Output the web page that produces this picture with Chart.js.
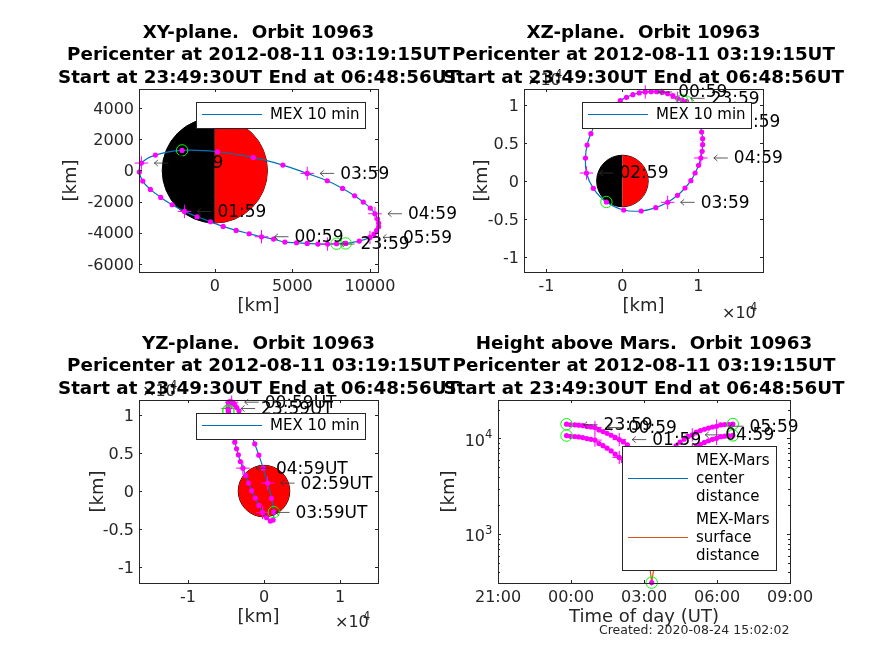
<!DOCTYPE html>
<html lang="en">
  <head>
    <meta charset="UTF-8" />
    <title>MEX orbit 10963</title>
    <script src="https://cdn.jsdelivr.net/npm/chart.js@4"></script>
    <style>
      body {
        margin: 0;
        background-color: #ffffff;
        overflow: hidden;
      }
      canvas {
        position: absolute;
        left: 0;
        top: 0;
      }
    </style>
  </head>
  <body>
    <canvas id="xyChart" width="874" height="655"></canvas>
    <canvas id="xzChart" width="874" height="655"></canvas>
    <canvas id="yzChart" width="874" height="655"></canvas>
    <canvas id="heightChart" width="874" height="655"></canvas>

    <script>
      // MEX position every 10 min, km
      const posX = [8428, 7848, 7267, 6644, 5955, 5268, 4515, 3784, 3010, 2214, 1376, 537, -280, -1140, -1957, -2752, -3483, -4150, -4644, -4859, -4730, -3827, -2107, 172, 2473, 4386, 5955, 7246, 8235, 9009, 9568, 10019, 10320, 10492, 10557, 10557, 10428, 10256, 9998, 9310, 8428];
      const posY = [-4680, -4701, -4723, -4723, -4680, -4637, -4595, -4402, -4253, -4060, -3847, -3590, -3291, -2970, -2629, -2201, -1731, -1218, -684, -107, 470, 983, 1282, 1197, 833, 342, -192, -662, -1154, -1624, -2030, -2415, -2778, -3120, -3376, -3612, -3847, -4082, -4295, -4530, -4680];
      const posZ = [10439, 10614, 10877, 11228, 11491, 11667, 11754, 11754, 11711, 11579, 11360, 11009, 10570, 9912, 9167, 8509, 7632, 6228, 4737, 3026, 1053, -965, -2763, -3816, -3947, -3509, -2807, -1886, -921, 44, 1053, 2061, 3026, 3904, 4781, 5570, 6447, 7193, 7851, 9167, 10439];

      const hourLabels = ["23:59", "00:59", "01:59", "02:59", "03:59", "04:59", "05:59"];
      const hourIndex = [2, 8, 14, 20, 26, 32, 38];
      const circleIndex = [0, 1, 22];

      // height plot
      const times = ["23:49", "23:59", "00:09", "00:19", "00:29", "00:39", "00:49", "00:59", "01:09", "01:19", "01:29", "01:39", "01:49", "01:59", "02:09", "02:19", "02:29", "02:39", "02:49", "02:59", "03:09", "03:19", "03:29", "03:39", "03:49", "03:59", "04:09", "04:19", "04:29", "04:39", "04:49", "04:59", "05:09", "05:19", "05:29", "05:39", "05:49", "05:59", "06:09", "06:19", "06:29", "06:39"];
      const centerDist = [14100, 13907, 13874, 13762, 13616, 13350, 13180, 13000, 12250, 11800, 11300, 10800, 10250, 9730, 9209, 8562, 7583, 6671, 5727, 4868, 4068, 3703, 4003, 4733, 5621, 6588, 7517, 8361, 9154, 9834, 10507, 10900, 11619, 12075, 12470, 12849, 13176, 13416, 13827, 13950, 14050, 14150];
      const surfaceDist = [10710, 10517, 10484, 10372, 10226, 9960, 9790, 9610, 8860, 8410, 7910, 7410, 6860, 6340, 5819, 5172, 4193, 3281, 2337, 1478, 678, 313, 613, 1343, 2231, 3198, 4127, 4971, 5764, 6444, 7117, 7510, 8229, 8685, 9080, 9459, 9786, 10026, 10437, 10560, 10660, 10760];
      const heightHourLabels = ["23:59", "00:59", "01:59", "02:59", "03:59", "04:59", "05:59"];
      const heightHourIndex = [1, 7, 13, 19, 25, 31, 37];
      const heightPlusIndex = [7, 13, 19, 25, 31, 37];
      const heightCircleIndex = [0, 21, 41];

      const xyTicksX = [0, 5000, 10000];
      const xyTicksY = [-6000, -4000, -2000, 0, 2000, 4000];
      const planeTicksX = [-10000, 0, 10000];
      const planeTicksY = [-10000, -5000, 0, 5000, 10000];
      const heightTicksX = [21, 24, 27, 30, 33];
      const heightTicksY = [1000, 10000];

      const marsRadius = 3390;

      const FONT = "'DejaVu Sans'";
      const DARK = "#262626";
      Chart.defaults.font.family = FONT;
      Chart.defaults.color = DARK;

      function toHours(t) {
        const p = t.split(":");
        const h = Number(p[0]) + Number(p[1]) / 60;
        return h < 12 ? h + 24 : h;
      }

      function pick(xs, ys, idx) {
        return idx.map((i) => ({ x: xs[i], y: ys[i] }));
      }

      function zip(xs, ys) {
        return xs.map((v, i) => ({ x: v, y: ys[i] }));
      }

      function lineSet(points, color, tension) {
        return {
          data: points,
          showLine: true,
          borderColor: color,
          borderWidth: 1.2,
          pointRadius: 0,
          tension: tension,
          clip: false,
          order: 3,
        };
      }

      function dotSet(points) {
        return {
          data: points,
          showLine: false,
          pointRadius: 2.6,
          pointHoverRadius: 2.6,
          pointBackgroundColor: "#ff00ff",
          pointBorderWidth: 0,
          clip: false,
          order: 2,
        };
      }

      function plusSet(points) {
        return {
          data: points,
          showLine: false,
          pointStyle: "cross",
          pointRadius: 6.7,
          pointBorderColor: "#ff00ff",
          pointBorderWidth: 1,
          clip: false,
          order: 1,
        };
      }

      function circleSet(points) {
        return {
          data: points,
          showLine: false,
          pointStyle: "circle",
          pointRadius: 5.7,
          pointBackgroundColor: "rgba(0,0,0,0)",
          pointBorderColor: "#00ff00",
          pointBorderWidth: 1,
          clip: false,
          order: 0,
        };
      }

      // Mars disc, sits under the orbit
      const marsPlugin = {
        id: "mars",
        beforeDatasetsDraw(chart, args, opts) {
          if (!opts.left) return;
          const { ctx, scales } = chart;
          const cx = scales.x.getPixelForValue(0);
          const cy = scales.y.getPixelForValue(0);
          const r = scales.x.getPixelForValue(marsRadius) - cx;
          ctx.save();
          ctx.beginPath();
          ctx.arc(cx, cy, r, 0, Math.PI * 2);
          ctx.strokeStyle = "#000000";
          ctx.lineWidth = 1;
          ctx.stroke();
          ctx.fillStyle = opts.left;
          ctx.beginPath();
          ctx.arc(cx, cy, r, Math.PI / 2, (Math.PI * 3) / 2);
          ctx.fill();
          ctx.fillStyle = opts.right;
          ctx.beginPath();
          ctx.arc(cx, cy, r, -Math.PI / 2, Math.PI / 2);
          ctx.fill();
          ctx.restore();
        },
      };

      // time labels with thin arrows next to the hour crosses
      const hourTextPlugin = {
        id: "hourText",
        afterDatasetsDraw(chart, args, opts) {
          const { ctx, scales } = chart;
          ctx.save();
          ctx.fillStyle = "#000000";
          ctx.strokeStyle = "#333333";
          ctx.lineWidth = 0.8;
          ctx.font = "17px " + FONT;
          ctx.textAlign = "left";
          ctx.textBaseline = "middle";
          opts.points.forEach((p, i) => {
            const px = scales.x.getPixelForValue(p.x);
            const py = scales.y.getPixelForValue(p.y);
            ctx.beginPath();
            ctx.moveTo(px + 27, py);
            ctx.lineTo(px + 13, py);
            ctx.moveTo(px + 16.5, py - 3);
            ctx.lineTo(px + 13, py);
            ctx.lineTo(px + 16.5, py + 3);
            ctx.stroke();
            ctx.fillText(opts.labels[i] + (opts.suffix || ""), px + 33, py + 1);
          });
          ctx.restore();
        },
      };

      // MATLAB style box, inward ticks, titles, legend and the odd texts
      const framePlugin = {
        id: "frame",
        afterDraw(chart, args, opts) {
          const { ctx, chartArea: a, scales } = chart;
          ctx.save();
          ctx.strokeStyle = DARK;
          ctx.lineWidth = 1;
          ctx.strokeRect(a.left + 0.5, a.top + 0.5, a.right - a.left, a.bottom - a.top);
          ctx.beginPath();
          scales.x.ticks.forEach((t) => {
            const px = Math.round(scales.x.getPixelForValue(t.value)) + 0.5;
            ctx.moveTo(px, a.bottom);
            ctx.lineTo(px, a.bottom - 3);
            ctx.moveTo(px, a.top);
            ctx.lineTo(px, a.top + 3);
          });
          const tickY = (v, len) => {
            const py = Math.round(scales.y.getPixelForValue(v)) + 0.5;
            ctx.moveTo(a.left, py);
            ctx.lineTo(a.left + len, py);
            ctx.moveTo(a.right, py);
            ctx.lineTo(a.right - len, py);
          };
          scales.y.ticks.forEach((t) => tickY(t.value, 3));
          if (opts.logY) {
            [100, 1000, 10000].forEach((d) => {
              for (let m = 2; m < 10; m++) {
                const v = d * m;
                if (v > scales.y.min && v < scales.y.max) tickY(v, 2);
              }
            });
          }
          ctx.stroke();

          ctx.fillStyle = DARK;
          ctx.textBaseline = "middle";
          if (opts.logY) {
            heightTicksY.forEach((v) => {
              const py = scales.y.getPixelForValue(v);
              ctx.textAlign = "right";
              ctx.font = "16px " + FONT;
              ctx.fillText("10", a.left - 13, py + 3);
              ctx.textAlign = "left";
              ctx.font = "11.5px " + FONT;
              ctx.fillText(String(Math.log10(v)), a.left - 13, py - 3);
            });
          }
          (opts.powers || []).forEach((p) => {
            ctx.textAlign = "left";
            ctx.font = "16px " + FONT;
            ctx.fillText("\u00d710", p.x, p.y);
            ctx.font = "11.5px " + FONT;
            ctx.fillText("4", p.x + 28, p.y - 6);
          });

          ctx.fillStyle = "#000000";
          ctx.textAlign = "center";
          ctx.font = "bold 18.3px " + FONT;
          opts.title.forEach((txt, i) => {
            ctx.fillText(txt, (a.left + a.right) / 2, a.top - 56 + i * 22.5);
          });

          const lg = opts.legend;
          ctx.fillStyle = "#ffffff";
          ctx.fillRect(lg.x, lg.y, lg.w, lg.h);
          ctx.strokeStyle = DARK;
          ctx.strokeRect(lg.x + 0.5, lg.y + 0.5, lg.w, lg.h);
          ctx.fillStyle = "#000000";
          ctx.font = lg.font + "px " + FONT;
          ctx.textAlign = "left";
          lg.rows.forEach((row) => {
            ctx.strokeStyle = row.color;
            ctx.beginPath();
            ctx.moveTo(lg.x + 6, row.lineY + 0.5);
            ctx.lineTo(lg.x + 66, row.lineY + 0.5);
            ctx.stroke();
            row.lines.forEach((txt, i) => {
              ctx.fillText(txt, lg.x + 74, row.textY + i * lg.step);
            });
          });

          if (opts.note) {
            ctx.fillStyle = DARK;
            ctx.font = "12.5px " + FONT;
            ctx.fillText(opts.note, 599, 631);
          }
          ctx.restore();
        },
      };

      function makeChart(id, cfg) {
        const box = cfg.box;
        const yWidth = box.left - cfg.yTitleX + 11;
        return new Chart(document.getElementById(id), {
          type: "scatter",
          data: { datasets: cfg.datasets },
          plugins: [marsPlugin, hourTextPlugin, framePlugin],
          options: {
            responsive: false,
            animation: false,
            events: [],
            layout: {
              padding: {
                left: box.left - yWidth,
                right: 874 - box.right,
                top: box.top,
                bottom: 655 - box.bottom - 45,
              },
            },
            scales: {
              x: {
                type: "linear",
                min: cfg.xRange[0],
                max: cfg.xRange[1],
                grid: { display: false, drawTicks: false },
                border: { display: false },
                afterBuildTicks: (s) => {
                  s.ticks = cfg.xTicks.map((v) => ({ value: v }));
                },
                afterFit: (s) => {
                  s.height = 45;
                },
                ticks: {
                  autoSkip: false,
                  maxRotation: 0,
                  padding: 5,
                  font: { size: 16 },
                  callback: cfg.xFormat,
                },
                title: {
                  display: true,
                  text: cfg.xTitle,
                  font: { size: 18 },
                  padding: 0,
                },
              },
              y: {
                type: cfg.logY ? "logarithmic" : "linear",
                min: cfg.yRange[0],
                max: cfg.yRange[1],
                grid: { display: false, drawTicks: false },
                border: { display: false },
                afterBuildTicks: (s) => {
                  s.ticks = cfg.yTicks.map((v) => ({ value: v }));
                },
                afterFit: (s) => {
                  s.width = yWidth;
                },
                ticks: {
                  autoSkip: false,
                  padding: 5,
                  labelOffset: 1.5,
                  font: { size: 16 },
                  callback: cfg.logY ? () => "" : cfg.yFormat,
                },
                title: {
                  display: true,
                  text: "[km]",
                  font: { size: 18 },
                  padding: 0,
                },
              },
            },
            plugins: {
              legend: { display: false },
              tooltip: { enabled: false },
              title: { display: false },
              mars: cfg.mars || {},
              hourText: cfg.hourText,
              frame: {
                title: cfg.title,
                legend: cfg.legend,
                powers: cfg.powers,
                logY: cfg.logY,
                note: cfg.note,
              },
            },
          },
        });
      }

      function titleLines(first) {
        return [first, "Pericenter at 2012-08-11 03:19:15UT", "Start at 23:49:30UT End at 06:48:56UT"];
      }

      function planeSets(xs, ys) {
        return [
          lineSet(zip(xs, ys), "#0072bd", 0.4),
          dotSet(zip(xs, ys)),
          plusSet(pick(xs, ys, hourIndex)),
          circleSet(pick(xs, ys, circleIndex)),
        ];
      }

      function mexLegend(x, y) {
        return {
          x: x,
          y: y,
          w: 169,
          h: 26,
          font: 15,
          step: 0,
          rows: [{ color: "#0072bd", lineY: y + 12, textY: y + 13, lines: ["MEX 10 min"] }],
        };
      }

      const plain = (v) => String(v);
      const per1e4 = (v) => String(v / 10000);

      makeChart("xyChart", {
        box: { left: 139, right: 378, top: 89, bottom: 272 },
        yTitleX: 72,
        title: titleLines("XY-plane.  Orbit 10963"),
        xRange: [-4884, 10516],
        yRange: [-6513, 5218],
        xTicks: xyTicksX,
        yTicks: xyTicksY,
        xFormat: plain,
        yFormat: plain,
        xTitle: "[km]",
        datasets: planeSets(posX, posY),
        mars: { left: "#000000", right: "#ff0000" },
        hourText: { points: pick(posX, posY, hourIndex), labels: hourLabels },
        legend: mexLegend(196, 102),
      });

      makeChart("xzChart", {
        box: { left: 524, right: 763, top: 89, bottom: 272 },
        yTitleX: 483,
        title: titleLines("XZ-plane.  Orbit 10963"),
        xRange: [-12950, 18500],
        yRange: [-11970, 12100],
        xTicks: planeTicksX,
        yTicks: planeTicksY,
        xFormat: per1e4,
        yFormat: per1e4,
        xTitle: "[km]",
        datasets: planeSets(posX, posZ),
        mars: { left: "#000000", right: "#ff0000" },
        hourText: { points: pick(posX, posZ, hourIndex), labels: hourLabels },
        legend: mexLegend(582, 102),
        powers: [
          { x: 722, y: 314 },
          { x: 527, y: 81 },
        ],
      });

      makeChart("yzChart", {
        box: { left: 139, right: 378, top: 400, bottom: 583 },
        yTitleX: 99,
        title: titleLines("YZ-plane.  Orbit 10963"),
        xRange: [-16450, 15000],
        yRange: [-12100, 12000],
        xTicks: planeTicksX,
        yTicks: planeTicksY,
        xFormat: per1e4,
        yFormat: per1e4,
        xTitle: "[km]",
        datasets: planeSets(posY, posZ),
        mars: { left: "#ff0000", right: "#ff0000" },
        hourText: { points: pick(posY, posZ, hourIndex), labels: hourLabels, suffix: "UT" },
        legend: mexLegend(196, 413),
        powers: [
          { x: 142, y: 392 },
          { x: 335, y: 623 },
        ],
      });

      const hours = times.map(toHours);
      makeChart("heightChart", {
        box: { left: 498, right: 790, top: 400, bottom: 583 },
        yTitleX: 450,
        title: titleLines("Height above Mars.  Orbit 10963"),
        xRange: [21, 33],
        yRange: [310, 25200],
        logY: true,
        xTicks: heightTicksX,
        yTicks: heightTicksY,
        xFormat: (v) => String(v % 24).padStart(2, "0") + ":00",
        xTitle: "Time of day (UT)",
        datasets: [
          lineSet(zip(hours, centerDist), "#0072bd", 0),
          lineSet(zip(hours, surfaceDist), "#d95319", 0),
          dotSet(zip(hours, centerDist)),
          dotSet(zip(hours, surfaceDist)),
          plusSet(pick(hours, centerDist, heightPlusIndex)),
          plusSet(pick(hours, surfaceDist, heightPlusIndex)),
          circleSet(pick(hours, centerDist, heightCircleIndex)),
          circleSet(pick(hours, surfaceDist, heightCircleIndex)),
        ],
        hourText: { points: pick(hours, centerDist, heightHourIndex), labels: heightHourLabels },
        legend: {
          x: 622,
          y: 446,
          w: 154,
          h: 124,
          font: 15,
          step: 18,
          rows: [
            { color: "#0072bd", lineY: 478, textY: 461, lines: ["MEX-Mars", "center", "distance"] },
            { color: "#d95319", lineY: 537, textY: 520, lines: ["MEX-Mars", "surface", "distance"] },
          ],
        },
        note: "Created: 2020-08-24 15:02:02",
      });
    </script>
  </body>
</html>
